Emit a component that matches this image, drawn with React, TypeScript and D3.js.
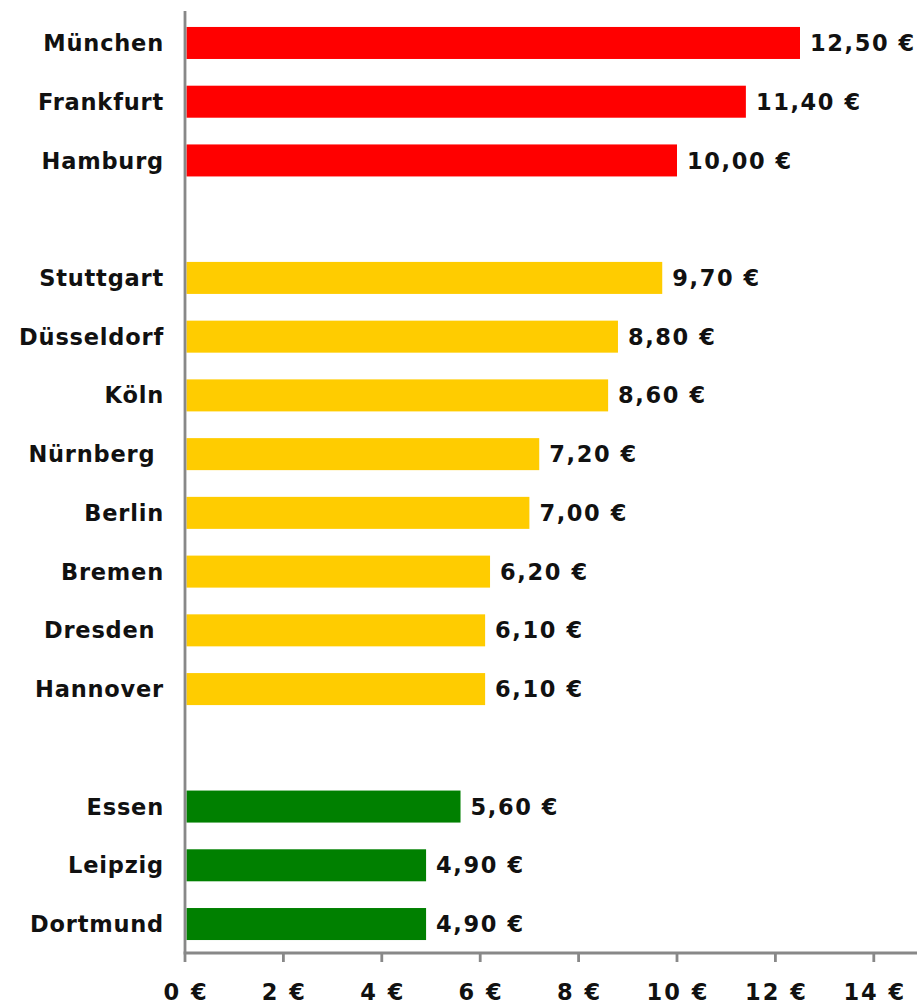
import React from "react";
import * as d3 from "d3";

const cities = ["München", "Frankfurt", "Hamburg", "", "Stuttgart", "Düsseldorf", "Köln", "Nürnberg ", "Berlin", "Bremen", "Dresden ", "Hannover", " ", "Essen", "Leipzig", "Dortmund"];
const values: (number | null)[] = [12.5, 11.4, 10.0, null, 9.7, 8.8, 8.6, 7.2, 7.0, 6.2, 6.1, 6.1, null, 5.6, 4.9, 4.9];
const groups = ["high", "high", "high", "", "mid", "mid", "mid", "mid", "mid", "mid", "mid", "mid", "", "low", "low", "low"];
const groupColors: Record<string, string> = { high: "#FF0000", mid: "#FFCC00", low: "#008000" };
const ticks = [0, 2, 4, 6, 8, 10, 12, 14];

const W = 917;
const H = 1005;
const FONT = "'DejaVu Sans', Verdana, sans-serif";

export default function App() {
  const keys = cities.map((c, i) => `${i}`);
  const x = d3.scaleLinear().domain([0, 15]).range([185, 923]);
  const y = d3.scaleBand<string>().domain(keys).range([13.6, 953.4]).paddingInner(0.455).paddingOuter(0.2275);
  const fmt = (v: number) => v.toFixed(2).replace(".", ",") + " €";
  const axisY = 953;
  return (
    <svg width={W} height={H} style={{ position: "absolute", left: 0, top: 0, background: "#fff" }}>
      {values.map((v, i) =>
        v == null ? null : (
          <g key={i}>
            <rect x={x(0) + 1.5} y={y(keys[i])!} width={x(v) - x(0) - 1.5} height={y.bandwidth()} fill={groupColors[groups[i]]} />
            <text x={x(v) + 10} y={y(keys[i])! + y.bandwidth() / 2} dy="0.36em" fontFamily={FONT} fontWeight="bold" fontSize={22.5} letterSpacing={1.6} fill="#111" style={{ whiteSpace: "pre" }}>
              {fmt(v)}
            </text>
          </g>
        )
      )}
      {cities.map((c, i) =>
        values[i] == null ? null : (
          <text key={"l" + i} x={164} y={y(keys[i])! + y.bandwidth() / 2} dy="0.36em" textAnchor="end" fontFamily={FONT} fontWeight="bold" fontSize={22.5} letterSpacing={0.8} fill="#111" style={{ whiteSpace: "pre" }}>
            {c}
          </text>
        )
      )}
      <line x1={x(0)} x2={x(0)} y1={11} y2={axisY} stroke="#888" strokeWidth={2.8} />
      <line x1={x(0) - 1.4} x2={W} y1={axisY} y2={axisY} stroke="#888" strokeWidth={2.8} />
      {ticks.map((t) => (
        <g key={"t" + t}>
          <line x1={x(t)} x2={x(t)} y1={axisY} y2={axisY + 9} stroke="#888" strokeWidth={2.8} />
          <text x={x(t) + 1} y={1000} textAnchor="middle" fontFamily={FONT} fontWeight="bold" fontSize={22.5} letterSpacing={2} fill="#111" style={{ whiteSpace: "pre" }}>
            {`${t} €`}
          </text>
        </g>
      ))}
    </svg>
  );
}
